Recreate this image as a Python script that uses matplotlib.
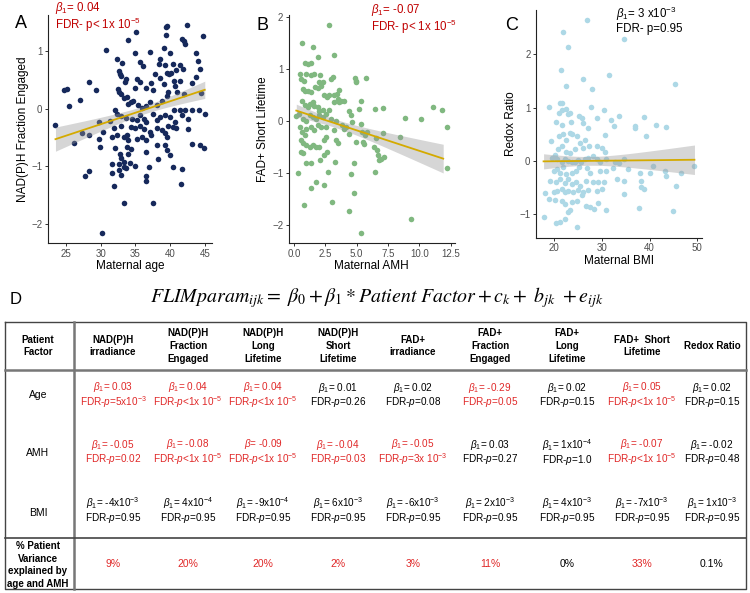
import numpy as np
import matplotlib
matplotlib.use('Agg')
import matplotlib.pyplot as plt

plt.rcParams['font.family'] = ['Liberation Sans', 'DejaVu Sans']
plt.rcParams['mathtext.fontset'] = 'custom'
plt.rcParams['mathtext.rm'] = 'Liberation Sans'
plt.rcParams['mathtext.it'] = 'Liberation Sans:italic'

# Panel A: maternal age vs NAD(P)H fraction engaged
age_x = [23.5, 24.8, 25.1, 25.4, 26.2, 27.1, 27.3, 27.8, 28.3, 28.3, 28.4, 29.4, 29.8, 29.8, 29.9, 30.2,
         30.8, 30.4, 31.3, 31.6, 31.7, 31.9, 32.1, 32.3, 32.3, 32.4, 32.5, 32.6, 32.6, 32.8, 32.9, 32.9,
         32.8, 32.9, 33.0, 33.0, 33.1, 33.3, 33.4, 33.4, 33.4, 33.6, 33.5, 33.6, 33.0, 33.4, 33.7, 33.8,
         33.8, 33.9, 33.8, 34.0, 34.0, 34.0, 34.2, 34.4, 34.4, 34.4, 34.5, 34.7, 34.9, 35.0, 35.0, 35.1,
         35.0, 35.2, 35.2, 35.3, 35.4, 35.7, 35.7, 35.7, 35.7, 35.9, 35.9, 36.1, 36.2, 36.3, 36.5, 36.6,
         36.6, 36.6, 36.6, 36.6, 36.6, 36.9, 37.1, 37.1, 37.1, 37.3, 37.3, 37.6, 37.6, 37.6, 37.8, 38.1,
         38.1, 38.1, 38.1, 38.3, 38.4, 38.5, 38.5, 38.5, 38.8, 38.8, 39.1, 39.1, 39.2, 39.2, 39.2, 39.2,
         39.4, 39.6, 39.4, 39.5, 39.5, 39.5, 39.5, 39.7, 39.7, 39.8, 40.0, 40.0, 40.0, 40.2, 40.4, 40.4,
         40.4, 40.5, 40.5, 40.7, 40.7, 40.9, 40.9, 41.0, 41.4, 41.4, 41.4, 41.6, 41.7, 41.7, 41.7, 41.8,
         42.0, 42.0, 42.1, 42.2, 42.4, 42.6, 42.6, 43.1, 43.1, 43.2, 43.7, 43.8, 44.0, 44.1, 44.3, 44.4,
         44.7, 44.9, 45.0, 31.9, 31.6, 32.7, 32.7, 32.1, 44.3]
nadh_fe = [-0.28, 0.32, 0.34, 0.05, -0.60, 0.16, -0.42, -1.17, -1.09, 0.46, -0.45, 0.33, -0.23, -0.53, -0.66, -2.16,
           1.03, -0.40, -0.21, -0.96, -1.12, -1.35, -0.03, -0.09, -0.46, 0.87, 0.34, 0.30, 0.65, 0.61, 0.57, -0.13,
           -0.79, -0.86, -0.30, -1.15, 0.80, -0.50, -0.92, -1.64, -1.01, -1.03, 0.46, 0.52, 0.26, 0.19, -0.16, 0.20,
           -0.46, -0.55, -0.67, 1.20, 0.09, -0.78, -0.95, -0.32, -0.70, 0.11, -0.17, 0.14, -0.34, 0.36, 0.97, 1.33,
           -0.99, 0.52, -0.52, -0.20, 0.06, 0.82, 0.47, -0.11, -0.30, 0.02, -0.49, 0.75, -0.17, -0.36, -1.17, -1.25,
           0.36, 0.04, -0.23, -0.55, -0.75, -1.02, 0.99, 0.11, -0.40, 0.44, -0.46, 0.33, -0.09, -1.64, 0.61, 0.06,
           -0.20, -0.34, -0.63, -0.88, 0.78, 0.86, 0.53, -0.14, 0.14, -0.37, 1.06, 0.43, 0.76, -0.11, -0.43, -0.64,
           1.42, 1.44, 1.28, 0.63, 0.23, -0.49, -0.72, 0.30, -0.30, 0.60, 0.97, -0.14, -0.80, 0.63, 0.78, -0.32,
           -1.02, 0.49, -0.03, 0.40, -0.23, 0.68, -0.34, 0.29, 0.76, 0.48, -0.03, -1.31, 1.22, -0.11, -1.05, 0.69,
           1.18, 0.25, -0.03, 1.12, 1.45, -0.18, -0.36, 0.44, -0.61, -0.03, 0.97, 0.56, 0.83, -0.02, 0.70, 0.27,
           1.26, -0.68, -0.09, -0.33, -0.49, -0.96, -1.06, -0.69, -0.63]
# fitted line (start/end x, start/end y)
age_fit_x = [23.5, 45.0]
age_fit_y = [-0.53, 0.33]

# Panel B: maternal AMH vs FAD+ short lifetime
amh_x = [2.82, 0.63, 1.50, 1.89, 3.21, 0.84, 1.11, 1.32, 0.50, 0.58, 0.79, 0.97, 1.37, 1.58, 2.03, 2.29,
         2.10, 2.95, 3.08, 3.55, 3.74, 4.00, 4.87, 4.92, 4.97, 5.76, 0.71, 0.84, 1.11, 1.37, 1.71, 1.89,
         2.16, 2.42, 2.61, 2.82, 3.21, 3.39, 3.47, 3.61, 3.21, 0.66, 0.84, 1.11, 1.24, 1.50, 1.63, 1.89,
         2.03, 2.29, 2.82, 4.39, 4.53, 5.32, 5.18, 6.42, 7.13, 8.82, 10.1, 11.1, 11.8, 12.2, 12.2, 0.18,
         0.39, 0.71, 0.97, 1.24, 1.50, 1.76, 2.03, 2.34, 2.55, 2.95, 3.34, 3.82, 4.00, 4.13, 4.39, 4.66,
         5.32, 5.45, 5.66, 5.84, 0.45, 0.66, 0.84, 0.97, 1.37, 1.63, 1.89, 2.16, 2.55, 3.21, 0.53, 0.71,
         0.92, 1.24, 1.50, 1.76, 2.03, 2.42, 2.55, 3.34, 3.47, 4.97, 5.53, 5.58, 6.50, 8.47, 6.37, 6.58,
         6.71, 6.76, 6.95, 7.16, 7.08, 0.58, 0.71, 0.97, 1.32, 2.08, 2.42, 2.61, 0.32, 2.68, 3.29, 1.76,
         1.37, 2.42, 4.53, 4.79, 6.42, 4.79, 3.00, 0.79, 4.39, 9.34, 5.37]
fad_short = [1.83, 1.49, 1.41, 1.22, 1.27, 1.12, 1.10, 1.12, 0.91, 0.80, 0.77, 0.91, 0.89, 0.90, 0.74, 0.74,
             0.89, 0.80, 0.84, 0.59, 0.39, 0.39, 0.82, 0.77, 0.74, 0.82, 0.61, 0.58, 0.57, 0.55, 0.66, 0.63,
             0.68, 0.49, 0.46, 0.50, 0.49, 0.52, 0.42, 0.36, 0.36, 0.39, 0.30, 0.27, 0.33, 0.36, 0.28, 0.27,
             0.20, 0.22, 0.22, 0.20, 0.11, 0.39, 0.23, 0.23, 0.25, 0.06, 0.03, 0.27, 0.22, -0.11, -0.89, 0.09,
             0.14, 0.04, 0.01, 0.11, 0.08, 0.04, 0.11, 0.08, 0.14, 0.03, 0.01, -0.08, -0.15, -0.11, -0.24, -0.02,
             -0.05, -0.21, -0.27, -0.21, -0.11, -0.21, -0.27, -0.15, -0.11, -0.18, -0.08, -0.11, -0.11, -0.18, -0.37, -0.43,
             -0.46, -0.49, -0.46, -0.49, -0.49, -0.37, -0.30, -0.37, -0.43, -0.40, -0.40, -0.44, -0.32, -0.30, -0.49, -0.56,
             -0.65, -0.75, -0.73, -0.68, -0.23, -0.59, -0.61, -0.81, -0.80, -0.75, -0.65, -0.59, -0.99, -0.97, -0.78, -1.16,
             -1.28, -1.23, -1.02, -0.80, -0.97, -1.37, -1.55, -1.60, -1.73, -1.87, -2.14]
amh_fit_x = [0.18, 11.9]
amh_fit_y = [0.20, -0.72]

# Panel C: maternal BMI vs redox ratio
bmi_x = [26.8, 21.9, 23.0, 34.7, 21.4, 22.6, 26.0, 31.6, 45.4, 27.9, 19.0, 21.3, 21.7, 21.6, 21.1, 22.5,
         23.0, 23.3, 27.7, 30.5, 33.6, 38.9, 25.2, 25.8, 20.4, 21.6, 23.5, 26.1, 27.2, 28.9, 32.0, 32.5,
         36.9, 36.9, 41.3, 43.4, 19.3, 21.1, 21.9, 22.4, 23.3, 23.7, 24.7, 25.4, 26.5, 27.4, 28.9, 30.6,
         39.3, 20.9, 21.6, 22.6, 23.3, 24.4, 26.1, 30.0, 30.6, 19.5, 20.2, 20.6, 21.6, 22.2, 23.0, 23.7,
         24.4, 25.1, 25.6, 26.5, 27.2, 28.2, 28.9, 29.6, 30.9, 32.7, 33.6, 34.6, 40.7, 49.4, 19.9, 20.7,
         21.3, 21.9, 22.6, 23.7, 24.6, 25.3, 26.8, 27.5, 29.6, 30.9, 32.4, 35.4, 37.9, 40.0, 43.2, 43.5,
         46.5, 19.2, 20.4, 21.3, 22.3, 23.0, 23.7, 24.6, 25.4, 26.7, 28.2, 29.3, 30.4, 33.1, 34.6, 38.3,
         45.6, 19.9, 20.6, 21.6, 22.3, 23.0, 24.0, 25.1, 26.1, 27.2, 29.0, 30.0, 34.7, 38.3, 38.8, 18.0,
         19.0, 20.2, 21.6, 22.3, 23.7, 24.7, 25.8, 26.7, 27.5, 28.4, 29.3, 30.9, 37.8, 45.0, 17.8, 21.3,
         22.3, 20.4, 24.9, 23.3, 22.9]
redox = [2.64, 2.41, 2.13, 2.29, 1.70, 1.41, 1.53, 1.61, 1.44, 1.35, 1.01, 1.09, 1.09, 0.96, 0.90, 0.98,
         0.87, 0.90, 1.01, 0.95, 0.84, 0.83, 0.84, 0.81, 0.73, 0.68, 0.73, 0.71, 0.62, 0.81, 0.76, 0.66,
         0.62, 0.65, 0.67, 0.63, 0.37, 0.47, 0.50, 0.40, 0.53, 0.50, 0.47, 0.34, 0.40, 0.28, 0.28, 0.48,
         0.47, 0.22, 0.28, 0.17, 0.14, 0.22, 0.24, 0.24, 0.16, 0.06, 0.11, 0.03, -0.02, 0.04, 0.00, -0.03,
         -0.02, 0.01, -0.03, 0.03, 0.06, 0.09, 0.03, -0.02, 0.03, -0.03, -0.04, 0.04, -0.09, -0.09, -0.19, -0.16,
         -0.22, -0.12, -0.25, -0.22, -0.19, -0.12, -0.14, -0.22, -0.20, -0.19, -0.14, -0.16, -0.23, -0.22, -0.20, -0.28,
         -0.22, -0.37, -0.39, -0.34, -0.42, -0.34, -0.43, -0.39, -0.47, -0.37, -0.39, -0.39, -0.39, -0.34, -0.37, -0.37,
         -0.48, -0.59, -0.56, -0.53, -0.59, -0.56, -0.59, -0.54, -0.59, -0.54, -0.56, -0.52, -0.62, -0.50, -0.53, -0.61,
         -0.71, -0.73, -0.75, -0.81, -0.78, -0.75, -0.65, -0.84, -0.87, -0.90, -0.79, -0.92, -0.89, -0.94, -1.06, -1.15,
         -1.10, -1.16, -1.25, -0.93, -0.96]
bmi_fit_x = [17.8, 49.4]
bmi_fit_y = [-0.01, 0.02]

# Panel D table contents
col_headers = ["Patient\nFactor", "NAD(P)H\nirradiance", "NAD(P)H\nFraction\nEngaged", "NAD(P)H\nLong\nLifetime",
               "NAD(P)H\nShort\nLifetime", "FAD+\nirradiance", "FAD+\nFraction\nEngaged", "FAD+\nLong\nLifetime",
               "FAD+  Short\nLifetime", "Redox Ratio"]
row_labels = ["Age", "AMH", "BMI"]
beta_rows = [
    ["0.03", "0.04", "0.04", "0.01", "0.02", "-0.29", "0.02", "0.05", "0.02"],
    ["-0.05", "-0.08", "-0.09", "-0.04", "-0.05", "0.03", "1x10$^{-4}$", "-0.07", "-0.02"],
    ["-4x10$^{-3}$", "4x10$^{-4}$", "-9x10$^{-4}$", "6x10$^{-3}$", "-6x10$^{-3}$", "2x10$^{-3}$",
     "4x10$^{-3}$", "-7x10$^{-3}$", "1x10$^{-3}$"],
]
p_rows = [
    ["=5x10$^{-3}$", "<1x 10$^{-5}$", "<1x 10$^{-5}$", "=0.26", "=0.08", "=0.05", "=0.15", "<1x 10$^{-5}$", "=0.15"],
    ["=0.02", "<1x 10$^{-5}$", "<1x 10$^{-5}$", "=0.03", "=3x 10$^{-3}$", "=0.27", "=1.0", "<1x 10$^{-5}$", "=0.48"],
    ["=0.95"] * 9,
]
sig_rows = [
    [1, 1, 1, 0, 0, 1, 0, 1, 0],
    [1, 1, 1, 1, 1, 0, 0, 1, 0],
    [0] * 9,
]
variance_label = "% Patient\nVariance\nexplained by\nage and AMH"
variance = ["9%", "20%", "20%", "2%", "3%", "11%", "0%", "33%", "0.1%"]
variance_sig = [1, 1, 1, 1, 1, 1, 0, 1, 0]

fig = plt.figure(figsize=(7.5, 5.93), dpi=100)
W, H = 750, 593


def scatter_panel(rect, x, y, fit_x, fit_y, color, xlabel, ylabel, xticks, xticklabels, yticks):
    ax = fig.add_axes(rect)
    x = np.asarray(x)
    y = np.asarray(y)
    ax.scatter(x, y, s=16, color=color, linewidths=0, zorder=2)
    # fitted line with confidence band from the residual spread
    slope = (fit_y[1] - fit_y[0]) / (fit_x[1] - fit_x[0])
    intercept = fit_y[0] - slope * fit_x[0]
    xs = np.linspace(fit_x[0], fit_x[1], 80)
    fit = slope * xs + intercept
    resid = y - (slope * x + intercept)
    s = np.sqrt(np.sum((resid - resid.mean()) ** 2) / (len(x) - 2))
    se = s * np.sqrt(1 / len(x) + (xs - x.mean()) ** 2 / np.sum((x - x.mean()) ** 2))
    ax.fill_between(xs, fit - 1.35 * se, fit + 1.35 * se, color='#999999', alpha=0.4, linewidth=0, zorder=3)
    ax.plot(xs, fit, color='#D4AA00', lw=1.3, zorder=4)
    ax.margins(0.05)
    ax.set_xticks(xticks)
    ax.set_xticklabels(xticklabels)
    ax.set_yticks(yticks)
    ax.set_xlabel(xlabel, fontsize=8.5, labelpad=1)
    ax.set_ylabel(ylabel, fontsize=8.5, labelpad=2)
    ax.tick_params(labelsize=7, colors='#333333', length=2.5, width=0.7, pad=1.5, labelcolor='#4d4d4d')
    for side in ['top', 'right']:
        ax.spines[side].set_visible(False)
    for side in ['left', 'bottom']:
        ax.spines[side].set_linewidth(0.8)
        ax.spines[side].set_color('#222222')
    return ax


scatter_panel([0.064, 0.590, 0.219, 0.3845], age_x, nadh_fe, age_fit_x, age_fit_y, '#16295B', 'Maternal age',
              'NAD(P)H Fraction Engaged', [25, 30, 35, 40, 45], ['25', '30', '35', '40', '45'], [-2, -1, 0, 1])
scatter_panel([0.385, 0.590, 0.221, 0.3845], amh_x, fad_short, amh_fit_x, amh_fit_y, '#80B880', 'Maternal AMH',
              'FAD+ Short Lifetime', [0, 2.5, 5, 7.5, 10, 12.5],
              ['0.0', '2.5', '5.0', '7.5', '10.0', '12.5'], [-2, -1, 0, 1, 2])
scatter_panel([0.7147, 0.599, 0.2213, 0.3845], bmi_x, redox, bmi_fit_x, bmi_fit_y, '#ADD8E6', 'Maternal BMI',
              'Redox Ratio', [20, 30, 40, 50], ['20', '30', '40', '50'], [-1, 0, 1, 2])

# full-figure overlay in pixel units for the table and loose text, drawn on top
ov = fig.add_axes([0, 0, 1, 1], zorder=10)
ov.set_xlim(0, W)
ov.set_ylim(H, 0)
ov.axis('off')

# panel letters and annotations
for lx, ly, letter in [(15, 24, 'A'), (257, 25, 'B'), (505, 25, 'C'), (10, 300, 'D')]:
    ov.text(lx, ly, letter, fontsize=13 if letter != 'D' else 12, ha='left', va='center')

dark_red = '#C00000'
ov.text(55, 17, r'$\beta_1$= 0.04' + '\n' + r'FDR- p< 1x 10$^{-5}$', color=dark_red, fontsize=8.3,
        va='center', linespacing=0.95)
ov.text(371, 19, r'$\beta_1$= -0.07' + '\n' + r'FDR- p< 1x 10$^{-5}$', color=dark_red, fontsize=8.3,
        va='center', linespacing=0.95)
ov.text(616, 20, r'$\beta_1$= 3 x10$^{-3}$' + '\n' + 'FDR- p=0.95', color='black', fontsize=8.3,
        va='center', linespacing=0.95)

ov.text(377, 298, r'$FLIMparam_{ijk} =\ \beta_0 + \beta_1 * Patient\ Factor + c_k +\ b_{jk}\ + e_{ijk}$',
        math_fontfamily='stix', fontsize=14.3, ha='center', va='center')

# table frame
t_left, t_right, t_top, t_bot = 5, 746, 322, 589
ov.plot([t_left, t_right, t_right, t_left, t_left], [t_top, t_top, t_bot, t_bot, t_top], color='#444444', lw=1.0)
ov.plot([74, 74], [t_top, t_bot], color='#777777', lw=1.8)
ov.plot([t_left, t_right], [370, 370], color='#777777', lw=1.8)
ov.plot([t_left, t_right], [538, 538], color='#444444', lw=1.2)

col_x = [38, 113, 188, 263, 338, 413, 490, 567, 642, 712]
red = '#E02828'
for cx, head in zip(col_x, col_headers):
    ov.text(cx, 346, head, fontsize=7, fontweight='bold', ha='center', va='center',
            multialignment='center', linespacing=1.35)

row_y = [(395, 395), (452, 453), (510, 513)]
for (yc, yl), label, betas, ps, sigs in zip(row_y, row_labels, beta_rows, p_rows, sig_rows):
    ov.text(col_x[0], yl, label, fontsize=7.5, ha='center', va='center')
    for j, (b, p, sg) in enumerate(zip(betas, ps, sigs)):
        c = red if sg else 'black'
        sym = r'$\beta$' if (label == 'AMH' and j == 2) else r'$\beta_1$'
        cell = sym + '= ' + b + '\n' + 'FDR-$p$' + p
        ov.text(col_x[j + 1], yc, cell, fontsize=7.2, color=c, ha='center', va='center',
                multialignment='center', linespacing=0.97)

ov.text(col_x[0], 565, variance_label, fontsize=7, fontweight='bold', ha='center', va='center',
        multialignment='center', linespacing=1.3)
for j, (v, sg) in enumerate(zip(variance, variance_sig)):
    ov.text(col_x[j + 1], 564, v, fontsize=7.5, color=red if sg else 'black', ha='center', va='center')

fig.savefig('out.png', dpi=100)
